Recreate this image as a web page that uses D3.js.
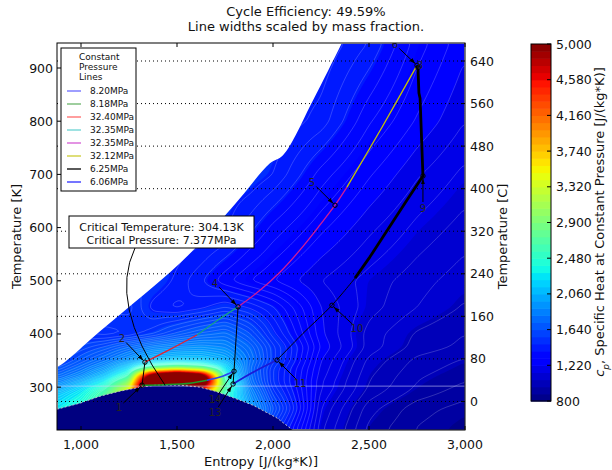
<!DOCTYPE html>
<html>
<head>
<meta charset="utf-8">
<script src="https://cdn.jsdelivr.net/npm/d3@7"></script>
<style>
  body { margin: 0; background: #fff; }
  text { font-family: "DejaVu Sans", sans-serif; fill: #111; }
</style>
</head>
<body>
<svg id="chart" width="612" height="470"></svg>
<script>
// specific heat field, cp [J/(kg*K)] sampled on an (entropy, temperature) grid
const sCols = [875, 1000, 1125, 1250, 1375, 1500, 1625, 1750, 1875, 2000, 2250, 2500, 2750, 3000];
const tRows = [215, 260, 290, 300, 310, 320, 335, 350, 375, 400, 450, 500, 600, 700, 800, 950];
const cpT215 = [2300, 2400, 2600, 3000, 4000, 4000, 3200, 2500, 2000, 1500, 1120, 960, 900, 870];
const cpT260 = [2300, 2500, 2800, 3300, 4500, 4500, 3500, 2600, 2000, 1650, 1150, 990, 920, 890];
const cpT290 = [2100, 2300, 2700, 3500, 6000, 6000, 4000, 2500, 1900, 1550, 1180, 1030, 960, 920];
const cpT300 = [1950, 2200, 2500, 3300, 7000, 7000, 5000, 2700, 1850, 1520, 1190, 1040, 970, 930];
const cpT310 = [1850, 2050, 2350, 3000, 6500, 7000, 6000, 2600, 1800, 1500, 1190, 1045, 975, 940];
const cpT320 = [1750, 1900, 2150, 2600, 6000, 7000, 6000, 2400, 1780, 1500, 1200, 1050, 980, 950];
const cpT335 = [1650, 1780, 1950, 2250, 2800, 3000, 2800, 2300, 1760, 1500, 1210, 1060, 990, 960];
const cpT350 = [1550, 1680, 1800, 1950, 2100, 2150, 2150, 2050, 1800, 1550, 1220, 1070, 1000, 970];
const cpT375 = [1520, 1580, 1650, 1750, 1850, 1900, 1920, 1880, 1750, 1550, 1250, 1100, 1030, 1000];
const cpT400 = [1500, 1500, 1480, 1500, 1560, 1650, 1720, 1760, 1650, 1480, 1230, 1100, 1040, 1010];
const cpT450 = [1550, 1550, 1550, 1550, 1450, 1420, 1450, 1500, 1460, 1400, 1220, 1130, 1080, 1040];
const cpT500 = [1500, 1500, 1500, 1500, 1500, 1455, 1400, 1335, 1290, 1255, 1185, 1135, 1095, 1060];
const cpT600 = [1500, 1500, 1500, 1500, 1500, 1500, 1500, 1475, 1410, 1350, 1265, 1195, 1140, 1100];
const cpT700 = [1500, 1500, 1500, 1500, 1500, 1500, 1500, 1500, 1500, 1465, 1345, 1260, 1190, 1140];
const cpT800 = [1500, 1500, 1500, 1500, 1500, 1500, 1500, 1500, 1500, 1500, 1450, 1330, 1250, 1185];
const cpT950 = [1500, 1500, 1500, 1500, 1500, 1500, 1500, 1500, 1500, 1500, 1500, 1430, 1310, 1230];
const cpRows = [cpT215, cpT260, cpT290, cpT300, cpT310, cpT320, cpT335, cpT350,
                cpT375, cpT400, cpT450, cpT500, cpT600, cpT700, cpT800, cpT950];

// limit of the property table (upper left) and saturation dome
const edgeS = [875, 1099, 1281, 1464, 1635, 1828, 1984, 2052, 2208, 2359];
const edgeT = [337.6, 405, 460, 516, 576, 655, 721, 736, 839, 947];
const domeS = [875, 995, 1099, 1203, 1307, 1385, 1437, 1516, 1620, 1698, 1802, 1896, 2021, 2104];
const domeT = [258.6, 270, 283, 292.5, 300, 303.6, 304.13, 303.8, 300, 292.5, 279, 266, 242, 219];
const critS = 1437, critT = 304.13;
const refLineT = 302;

// cycle lines, [entropy, temperature] along each pressure
const pressureNames = ["8.20MPa", "8.18MPa", "32.40MPa", "32.35MPa", "32.35MPa", "32.12MPa", "6.25MPa", "6.06MPa"];
const p820 = [[1797, 330], [1724, 319], [1656, 313]];
const p818 = [[1656, 313], [1568, 307.5], [1437, 304.7], [1318, 303.8]];
const p3240 = [[1333, 347], [1464, 371], [1604, 398]];
const p3235a = [[1604, 398], [1708, 425], [1818, 451]];
const p3235b = [[1818, 451], [1932, 482], [2036, 516], [2141, 558], [2245, 605], [2323, 642], [2385, 676]];
const p3212 = [[2385, 676], [2570, 790], [2750, 905]];
const p625hot = [[2750, 905], [2755, 900], [2760, 853], [2766, 843], [2781, 697], [2698, 652], [2505, 545], [2427, 505]];
const p625 = [[2427, 505], [2307, 454], [2156, 401], [2021, 351]];
const p606 = [[2021, 351], [1896, 328], [1792, 306]];
const compressors = [[[1318, 303.8], [1333, 347]], [[1792, 306], [1797, 330], [1818, 451]]];

// state points
const stateNames = ["1", "2", "4", "5", "6", "8", "9", "10", "11", "13", "14"];
const stateS = [1318, 1333, 1818, 2323, 2750, 2755, 2781, 2307, 2021, 1792, 1797];
const stateT = [303.8, 347, 451, 642, 905, 901, 697, 454, 351, 306, 330];

const cpTicks = d3.range(800, 5001, 420);
const kTicks = [300, 400, 500, 600, 700, 800, 900];
const cTicks = [0, 80, 160, 240, 320, 400, 480, 560, 640];
const sTicks = [1000, 1500, 2000, 2500, 3000];

// ---------------------------------------------------------------
const svg = d3.select("#chart");
const L = 57, R = 465, T0 = 43, B = 430;
const sMin = 875, sMax = 3000, tMin = 219.5, tMax = 947;
const x = d3.scaleLinear().domain([sMin, sMax]).range([L, R]);
const y = d3.scaleLinear().domain([tMin, tMax]).range([B, T0]);
const yC = d3.scaleLinear().domain([tMin - 273.15, tMax - 273.15]).range([B, T0]);

function seg(stops, t) {
  for (let i = 1; i < stops.length; i++) {
    if (t <= stops[i][0]) {
      const a = stops[i - 1], b = stops[i];
      return a[1] + (b[1] - a[1]) * (t - a[0]) / (b[0] - a[0]);
    }
  }
  return stops[stops.length - 1][1];
}
function jet(t) {
  t = Math.max(0, Math.min(1, t));
  const r = seg([[0, 0], [0.35, 0], [0.66, 1], [0.89, 1], [1, 0.5]], t);
  const g = seg([[0, 0], [0.125, 0], [0.375, 1], [0.64, 1], [0.91, 0], [1, 0]], t);
  const b = seg([[0, 0.5], [0.11, 1], [0.34, 1], [0.65, 0], [1, 0]], t);
  return d3.rgb(r * 255, g * 255, b * 255).formatHex();
}
const cpColor = v => jet((v - 800) / 4200);

function cpAt(s, T) {
  let i = Math.max(0, Math.min(sCols.length - 2, d3.bisectRight(sCols, s) - 1));
  let j = Math.max(0, Math.min(tRows.length - 2, d3.bisectRight(tRows, T) - 1));
  const fs = Math.max(0, Math.min(1, (s - sCols[i]) / (sCols[i + 1] - sCols[i])));
  const ft = Math.max(0, Math.min(1, (T - tRows[j]) / (tRows[j + 1] - tRows[j])));
  const a = cpRows[j][i], b = cpRows[j][i + 1], c = cpRows[j + 1][i], d = cpRows[j + 1][i + 1];
  return (a * (1 - fs) + b * fs) * (1 - ft) + (c * (1 - fs) + d * fs) * ft;
}

// sample the field on a fine grid for the contour bands
const nx = 204, ny = 194;
let vals = new Float64Array(nx * ny);
for (let r = 0; r < ny; r++) {
  const T = tMax - (r + 0.5) * (tMax - tMin) / ny;
  for (let c = 0; c < nx; c++) {
    const s = sMin + (c + 0.5) * (sMax - sMin) / nx;
    vals[r * nx + c] = cpAt(s, T);
  }
}
function boxBlur(v, rad) {
  const out = new Float64Array(v.length), tmp = new Float64Array(v.length);
  for (let r = 0; r < ny; r++) for (let c = 0; c < nx; c++) {
    let sum = 0, n = 0;
    for (let k = -rad; k <= rad; k++) { const cc = c + k; if (cc >= 0 && cc < nx) { sum += v[r * nx + cc]; n++; } }
    tmp[r * nx + c] = sum / n;
  }
  for (let r = 0; r < ny; r++) for (let c = 0; c < nx; c++) {
    let sum = 0, n = 0;
    for (let k = -rad; k <= rad; k++) { const rr = r + k; if (rr >= 0 && rr < ny) { sum += tmp[rr * nx + c]; n++; } }
    out[r * nx + c] = sum / n;
  }
  return out;
}
vals = boxBlur(boxBlur(vals, 1), 1);

const gridPath = d3.geoPath(d3.geoTransform({
  point: function (px, py) { this.stream.point(L + px * (R - L) / nx, T0 + py * (B - T0) / ny); }
}));

const defs = svg.append("defs");
defs.append("clipPath").attr("id", "plotclip")
  .append("rect").attr("x", L).attr("y", T0).attr("width", R - L).attr("height", B - T0);
defs.append("marker").attr("id", "ah").attr("viewBox", "0 0 10 10")
  .attr("refX", 10).attr("refY", 5).attr("markerWidth", 6).attr("markerHeight", 6)
  .attr("orient", "auto")
  .append("path").attr("d", "M0,1.5L10,5L0,8.5z").attr("fill", "#000");

const plot = svg.append("g").attr("clip-path", "url(#plotclip)");

const step = 84;
const bandLevels = d3.range(800, 5000, step);
const bands = d3.contours().size([nx, ny]).thresholds(bandLevels)(vals);
plot.append("g").selectAll("path").data(bands).join("path")
  .attr("d", gridPath)
  .attr("fill", d => cpColor(d.value + step / 2));

const isoLevels = d3.range(835, 2600, 35);
const isos = d3.contours().size([nx, ny]).thresholds(isoLevels)(vals);
plot.append("g").selectAll("path").data(isos).join("path")
  .attr("d", gridPath)
  .attr("fill", "none")
  .attr("stroke", "#ffffff")
  .attr("stroke-opacity", 0.32)
  .attr("stroke-width", 0.6);

// blank area beyond the table limit
const edgePts = edgeS.map((s, i) => [x(s), y(edgeT[i])]);
plot.append("path")
  .attr("d", d3.line().curve(d3.curveCatmullRom)([[L - 5, T0 - 40], [L - 5, edgePts[0][1]], ...edgePts, [edgePts[edgePts.length - 1][0] + 20, T0 - 40]]) + "Z")
  .attr("fill", "#fff");

// two-phase region
const domePts = domeS.map((s, i) => [x(s), y(domeT[i])]);
plot.append("path")
  .attr("d", d3.line()([[L - 5, B + 5], [L - 5, domePts[0][1]], ...domePts, [domePts[domePts.length - 1][0], B + 5]]) + "Z")
  .attr("fill", cpColor(800));
plot.append("path")
  .attr("d", d3.line()(domePts))
  .attr("fill", "none").attr("stroke", "#b8b8c8").attr("stroke-width", 1)
  .attr("stroke-dasharray", "2,2");

plot.append("line")
  .attr("x1", L).attr("x2", R).attr("y1", y(refLineT)).attr("y2", y(refLineT))
  .attr("stroke", "#d8d8ff").attr("stroke-opacity", 0.7).attr("stroke-width", 0.8);

// celsius grid
plot.append("g").selectAll("line").data(cTicks).join("line")
  .attr("x1", L).attr("x2", R)
  .attr("y1", d => yC(d)).attr("y2", d => yC(d))
  .attr("stroke", "#000").attr("stroke-width", 1).attr("stroke-dasharray", "1,3");

// cycle
const lineColors = ["#2a48f0", "#1a9a2a", "#e8202e", "#14a08a", "#d01c96", "#c8c400", "#000000", "#1a1ad8"];
const legendColors = ["#6a6aff", "#6ab46a", "#ff6a6a", "#6ad2d2", "#d45ad4", "#cccc30", "#000000", "#2a2aff"];
const cycleLines = [
  { pts: p3240, k: 2, w: 1.3, smooth: true },
  { pts: p3235a, k: 3, w: 1.3, smooth: true },
  { pts: p3235b, k: 4, w: 1.3, smooth: true },
  { pts: p3212, k: 5, w: 1.3, smooth: true },
  { pts: p625hot, k: 6, w: 2.8, smooth: false },
  { pts: p625, k: 6, w: 1.0, smooth: true },
  { pts: p606, k: 7, w: 1.8, smooth: true },
  { pts: p820, k: 0, w: 1.5, smooth: true },
  { pts: p818, k: 1, w: 1.5, smooth: true }
];
const lineSmooth = d3.line().x(d => x(d[0])).y(d => y(d[1])).curve(d3.curveCatmullRom);
const lineStraight = d3.line().x(d => x(d[0])).y(d => y(d[1]));
const cyc = svg.append("g").attr("clip-path", "url(#plotclip)");
cyc.selectAll("path.hx").data(cycleLines).join("path")
  .attr("class", "hx")
  .attr("d", d => (d.smooth ? lineSmooth : lineStraight)(d.pts))
  .attr("fill", "none")
  .attr("stroke", d => lineColors[d.k])
  .attr("stroke-width", d => d.w)
  .attr("stroke-linejoin", "round");
cyc.selectAll("path.cmp").data(compressors).join("path")
  .attr("class", "cmp")
  .attr("d", d => lineStraight(d))
  .attr("fill", "none").attr("stroke", "#000").attr("stroke-width", 1);

cyc.selectAll("circle").data(stateS).join("circle")
  .attr("cx", d => x(d))
  .attr("cy", (d, i) => y(stateT[i]))
  .attr("r", 2.2)
  .attr("fill", "none").attr("stroke", "#000").attr("stroke-width", 1);

// label offsets in pixels from each state point
const labelOffset = [[-23, 22], [-23, -24], [-23, -24], [-23, -23], [-22, -21], [2, -2], [0, 32], [25, 23], [23, 23], [-18, 28], [-19, 28]];
stateNames.forEach((name, i) => {
  const px = x(stateS[i]), py = y(stateT[i]);
  const [dx, dy] = labelOffset[i];
  const lx = px + dx, ly = py + dy;
  const len = Math.hypot(dx, dy);
  if (len > 8) {
    const ux = -dx / len, uy = -dy / len;
    cyc.append("line")
      .attr("x1", lx + ux * 6).attr("y1", ly + uy * 6)
      .attr("x2", px - ux * 2.5).attr("y2", py - uy * 2.5)
      .attr("stroke", "#000").attr("stroke-width", 1)
      .attr("marker-end", "url(#ah)");
  }
  cyc.append("text").attr("x", lx).attr("y", ly + 4)
    .attr("text-anchor", "middle").attr("font-size", 10).style("fill", "#222")
    .text(name);
});

// critical point callout
const cx0 = 135, cy0 = 248;
const cpx = x(critS), cpy = y(critT);
svg.append("path")
  .attr("d", `M${cx0},${cy0}Q108.5,303.5 ${cpx},${cpy}`)
  .attr("fill", "none").attr("stroke", "#000").attr("stroke-width", 1);
svg.append("rect").attr("x", 69).attr("y", 216).attr("width", 185).attr("height", 32)
  .attr("fill", "#fff").attr("stroke", "#000").attr("stroke-width", 1);
svg.append("text").attr("x", 161.5).attr("y", 231).attr("text-anchor", "middle").attr("font-size", 11)
  .text(`Critical Temperature: ${critT.toFixed(2)}K`);
svg.append("text").attr("x", 161.5).attr("y", 244).attr("text-anchor", "middle").attr("font-size", 11)
  .text("Critical Pressure: 7.377MPa");

// legend
const lg = svg.append("g");
lg.append("rect").attr("x", 61).attr("y", 48).attr("width", 75).attr("height", 143)
  .attr("fill", "#fff").attr("stroke", "#000").attr("stroke-width", 1);
["Constant", "Pressure", "Lines"].forEach((t, i) => {
  lg.append("text").attr("x", 79).attr("y", 60 + i * 10).attr("font-size", 9).text(t);
});
pressureNames.forEach((name, i) => {
  const yy = 91 + i * 13;
  lg.append("line").attr("x1", 67).attr("x2", 81).attr("y1", yy).attr("y2", yy)
    .attr("stroke", legendColors[i]).attr("stroke-width", 1.3);
  lg.append("text").attr("x", 90).attr("y", yy + 3.2).attr("font-size", 9).text(name);
});

// frame and axes
svg.append("rect").attr("x", L).attr("y", T0).attr("width", R - L).attr("height", B - T0)
  .attr("fill", "none").attr("stroke", "#000").attr("stroke-width", 1);

const ax = svg.append("g");
sTicks.forEach(v => {
  ax.append("line").attr("x1", x(v)).attr("x2", x(v)).attr("y1", B).attr("y2", B - 4).attr("stroke", "#000");
  ax.append("line").attr("x1", x(v)).attr("x2", x(v)).attr("y1", T0).attr("y2", T0 + 4).attr("stroke", "#000");
  ax.append("text").attr("x", x(v)).attr("y", B + 19).attr("text-anchor", "middle").attr("font-size", 12.5)
    .text(d3.format(",")(v));
});
kTicks.forEach(v => {
  ax.append("line").attr("x1", L).attr("x2", L + 4).attr("y1", y(v)).attr("y2", y(v)).attr("stroke", "#000");
  ax.append("text").attr("x", L - 4).attr("y", y(v) + 4.5).attr("text-anchor", "end").attr("font-size", 12.5)
    .text(v);
});
cTicks.forEach(v => {
  ax.append("line").attr("x1", R).attr("x2", R - 4).attr("y1", yC(v)).attr("y2", yC(v)).attr("stroke", "#000");
  ax.append("text").attr("x", R + 5).attr("y", yC(v) + 4.5).attr("font-size", 12.5).text(v);
});
svg.append("text").attr("x", (L + R) / 2).attr("y", 466).attr("text-anchor", "middle").attr("font-size", 13)
  .text("Entropy [J/(kg*K)]");
svg.append("text").attr("transform", `translate(21,${(T0 + B) / 2}) rotate(-90)`)
  .attr("text-anchor", "middle").attr("font-size", 13).text("Temperature [K]");
svg.append("text").attr("transform", `translate(507,${(T0 + B) / 2}) rotate(-90)`)
  .attr("text-anchor", "middle").attr("font-size", 13).text("Temperature [C]");

// title
svg.append("text").attr("x", 306).attr("y", 16).attr("text-anchor", "middle").attr("font-size", 13)
  .text("Cycle Efficiency: 49.59%");
svg.append("text").attr("x", 306).attr("y", 31).attr("text-anchor", "middle").attr("font-size", 13)
  .text("Line widths scaled by mass fraction.");

// colour bar
const cbX = 531, cbW = 20;
const cb = d3.scaleLinear().domain([800, 5000]).range([401, 44]);
const cbg = svg.append("g");
cbg.selectAll("rect.band").data(bandLevels).join("rect")
  .attr("class", "band")
  .attr("x", cbX).attr("width", cbW)
  .attr("y", d => cb(Math.min(5000, d + step)))
  .attr("height", d => cb(d) - cb(Math.min(5000, d + step)) + 0.6)
  .attr("fill", d => cpColor(d + step / 2));
cbg.append("rect").attr("x", cbX).attr("y", 44).attr("width", cbW).attr("height", 357)
  .attr("fill", "none").attr("stroke", "#000").attr("stroke-width", 1);
cpTicks.forEach(v => {
  cbg.append("line").attr("x1", cbX + cbW).attr("x2", cbX + cbW - 4).attr("y1", cb(v)).attr("y2", cb(v)).attr("stroke", "#000");
  cbg.append("text").attr("x", cbX + cbW + 5).attr("y", cb(v) + 4.5).attr("font-size", 12.5)
    .text(d3.format(",")(v));
});
const cbl = svg.append("text").attr("transform", `translate(604,222) rotate(-90)`)
  .attr("text-anchor", "middle").attr("font-size", 13);
cbl.append("tspan").attr("font-style", "italic").text("c");
cbl.append("tspan").attr("baseline-shift", "sub").attr("font-size", 9).attr("font-style", "italic").text("p");
cbl.append("tspan").text(", Specific Heat at Constant Pressure [J/(kg*K)]");
</script>
</body>
</html>
